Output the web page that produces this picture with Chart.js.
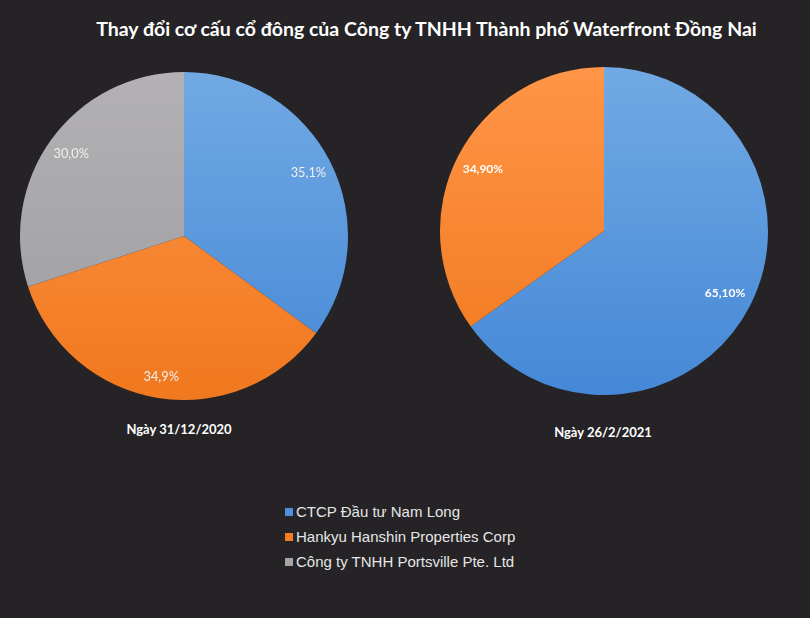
<!DOCTYPE html>
<html>
<head>
<meta charset="utf-8">
<script src="https://cdn.jsdelivr.net/npm/chart.js@4"></script>
<style>
  html,body{margin:0;padding:0;background:#252326;}
  #wrap{position:relative;width:810px;height:618px;background:#252326;overflow:hidden;}
  #title{position:absolute;left:0;width:853px;top:17px;text-align:center;color:#ffffff;font:bold 19.5px Lato, "Open Sans", sans-serif;white-space:nowrap;}
  .cap{position:absolute;color:#ffffff;font:bold 13px Lato, "Open Sans", sans-serif;white-space:nowrap;transform:translateX(-50%);}
  .cv{position:absolute;}
  #legend{position:absolute;left:285px;top:500px;font:15px "Liberation Sans", Arial, sans-serif;color:#e6e6e6;}
  .li{height:25px;line-height:24px;white-space:nowrap;}
  .sw{display:inline-block;width:8px;height:8px;margin-right:3px;vertical-align:1px;}
</style>
</head>
<body>
<div id="wrap">
  <div id="title"></div>
  <div class="cv" style="left:20px;top:72px;width:328px;height:328px;"><canvas id="c1"></canvas></div>
  <div class="cv" style="left:440px;top:67px;width:328px;height:328px;"><canvas id="c2"></canvas></div>
  <div class="cap" id="cap1" style="left:179px;top:421px;"></div>
  <div class="cap" id="cap2" style="left:603px;top:424px;"></div>
  <div id="legend"></div>
</div>
<script>
const titleText = "Thay đổi cơ cấu cổ đông của Công ty TNHH Thành phố Waterfront Đồng Nai";
const categories = ["CTCP Đầu tư Nam Long", "Hankyu Hanshin Properties Corp", "Công ty TNHH Portsville Pte. Ltd"];
const captions = ["Ngày 31/12/2020", "Ngày 26/2/2021"];
const values2020 = [35.1, 34.9, 30.0];
const values2021 = [65.1, 34.9];

const colorTop = ["#71a9e4", "#ff9547", "#b3b1b3"];
const colorBottom = ["#4588d6", "#f0781e", "#9c9b9d"];
const legendColors = ["#4f8fdc", "#f47b20", "#a5a5a5"];

document.getElementById('title').textContent = titleText;
document.getElementById('cap1').textContent = captions[0];
document.getElementById('cap2').textContent = captions[1];
const leg = document.getElementById('legend');
categories.forEach((c,i)=>{
  const d=document.createElement('div'); d.className='li';
  const s=document.createElement('span'); s.className='sw'; s.style.background=legendColors[i];
  d.appendChild(s); d.appendChild(document.createTextNode(c)); leg.appendChild(d);
});

function grad(ctx){
  const chart=ctx.chart, area=chart.chartArea, i=ctx.dataIndex;
  if(!area) return colorBottom[i];
  const g=chart.ctx.createLinearGradient(0,area.top,0,area.bottom);
  g.addColorStop(0,colorTop[i]); g.addColorStop(1,colorBottom[i]);
  return g;
}

const labelPlugin = {
  id:'sliceLabels',
  afterDatasetsDraw(chart, args, opts){
    const ctx=chart.ctx;
    const meta=chart.getDatasetMeta(0);
    const data=chart.data.datasets[0].data;
    ctx.save();
    ctx.font=opts.font; ctx.fillStyle=opts.color;
    ctx.textAlign='center'; ctx.textBaseline='middle';
    meta.data.forEach((arc,i)=>{
      const p=arc.getProps(['x','y','startAngle','endAngle','outerRadius'],true);
      const mid=(p.startAngle+p.endAngle)/2;
      const r=p.outerRadius*(opts.factors[i]||0.85);
      const txt=data[i].toFixed(opts.decimals).replace('.',',')+'%';
      ctx.fillText(txt, p.x+Math.cos(mid)*r, p.y+Math.sin(mid)*r);
    });
    ctx.restore();
  }
};

function makePie(id, values, labelOpts){
  new Chart(document.getElementById(id), {
    type:'pie',
    data:{labels:categories.slice(0,values.length), datasets:[{data:values, backgroundColor:grad, borderWidth:0}]},
    options:{
      responsive:true, maintainAspectRatio:false, animation:false,
      layout:{padding:0},
      plugins:{legend:{display:false}, tooltip:{enabled:false}, sliceLabels:labelOpts}
    },
    plugins:[labelPlugin]
  });
}
makePie('c1', values2020, {font:'12.8px Lato, "Open Sans", sans-serif', color:'#f0f0f0', decimals:1, factors:[0.85,0.87,0.85]});
makePie('c2', values2021, {font:'bold 12px Lato, "Open Sans", sans-serif', color:'#ffffff', decimals:2, factors:[0.83,0.83]});
</script>
</body>
</html>
